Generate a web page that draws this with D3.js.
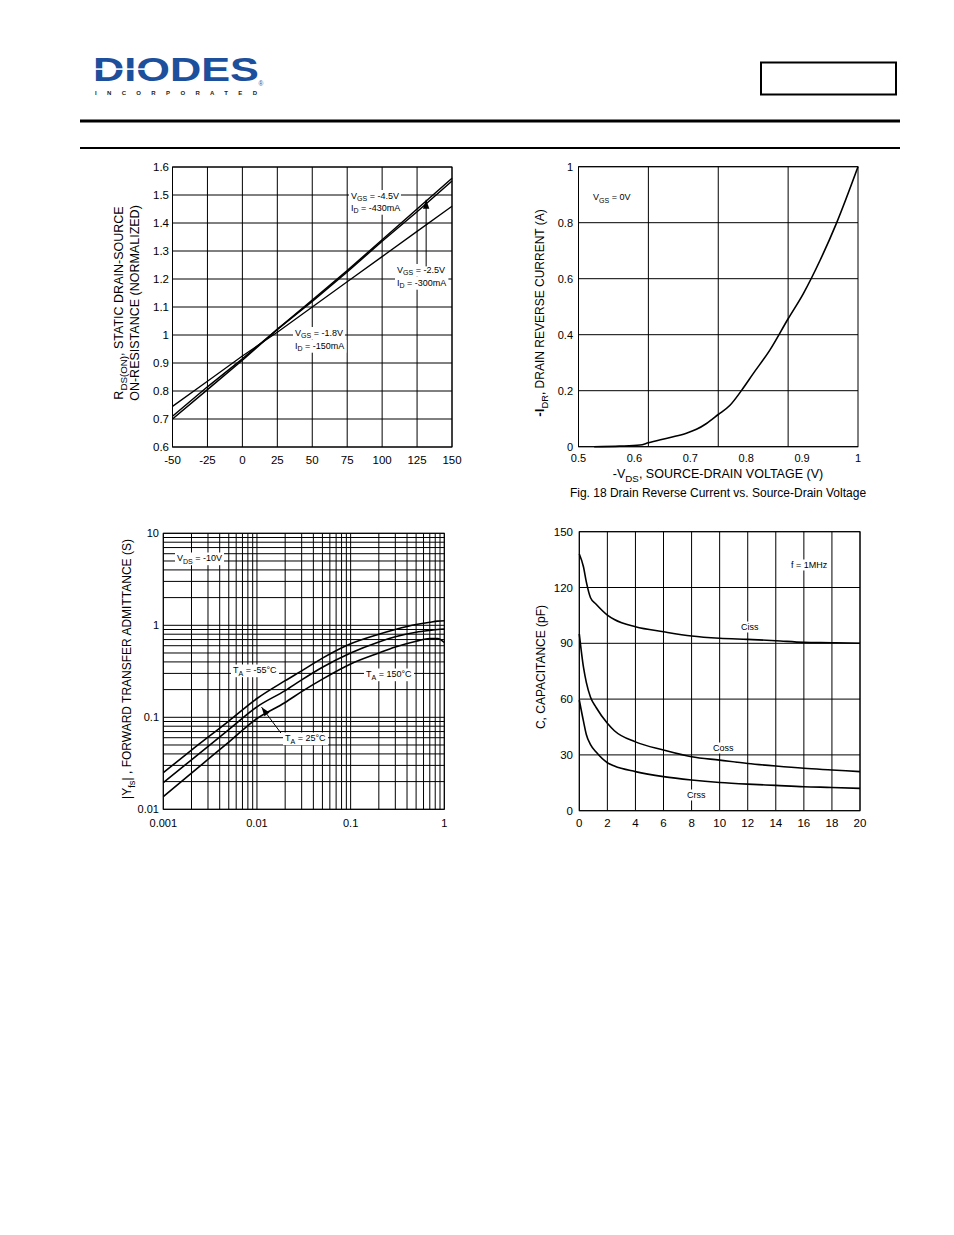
<!DOCTYPE html>
<html><head><meta charset="utf-8">
<script src="https://cdn.jsdelivr.net/npm/d3@7"></script>
<style>
body{margin:0;background:#fff}
svg{display:block}
text{font-family:"Liberation Sans",Arial,Helvetica,sans-serif;fill:#000}
</style>
</head><body>
<svg id="c" width="954" height="1235"></svg>
<script>
// ---------- Panel 1: normalized RDS(ON) vs temperature ----------
const p1Temp = [-50, -25, 0, 25, 50, 75, 100, 125, 150];
const p1R45 = [0.70, 0.805, 0.91, 1.02, 1.125, 1.23, 1.34, 1.45, 1.56];
const p1R18 = [0.71, 0.815, 0.915, 1.02, 1.12, 1.225, 1.335, 1.44, 1.55];
const p1R25 = [0.745, 0.835, 0.925, 1.01, 1.10, 1.19, 1.28, 1.37, 1.46];
const p1XTicks = [-50, -25, 0, 25, 50, 75, 100, 125, 150];
const p1YTicks = [0.6, 0.7, 0.8, 0.9, 1.0, 1.1, 1.2, 1.3, 1.4, 1.5, 1.6];
const p1YLabels = ["0.6","0.7","0.8","0.9","1","1.1","1.2","1.3","1.4","1.5","1.6"];

// ---------- Panel 2: drain reverse current vs source-drain voltage ----------
const p2Vsd = [0.528,0.574,0.61,0.625,0.664,0.693,0.711,0.729,0.75,0.771,0.792,0.8125,0.842,0.875,0.902,0.932,0.961,1.0];
const p2Idr = [0,0.002,0.006,0.014,0.033,0.048,0.062,0.083,0.115,0.148,0.202,0.261,0.344,0.457,0.546,0.665,0.796,1.0];
const p2XLabels = [0.5, 0.6, 0.7, 0.8, 0.9, 1.0];
const p2XLabelText = ["0.5","0.6","0.7","0.8","0.9","1"];
const p2XGrid = [0.625, 0.75, 0.875];
const p2YTicks = [0, 0.2, 0.4, 0.6, 0.8, 1.0];
const p2YLabels = ["0","0.2","0.4","0.6","0.8","1"];

// ---------- Panel 3: forward transfer admittance vs drain current ----------
const p3Id = [0.001,0.002,0.005,0.01,0.02,0.03,0.05,0.1,0.2,0.3,0.5,0.7,0.85,1];
const p3Yfs55 = [0.025,0.044,0.091,0.16,0.25,0.32,0.44,0.63,0.80,0.90,1.02,1.08,1.11,1.12];
const p3Yfs25 = [0.0195,0.0345,0.0735,0.13,0.195,0.255,0.35,0.50,0.66,0.75,0.84,0.88,0.90,0.91];
const p3Yfs150 = [0.0137,0.0247,0.0538,0.097,0.145,0.19,0.26,0.38,0.50,0.58,0.67,0.72,0.72,0.65];
const p3XLabels = [0.001, 0.01, 0.1, 1];
const p3XLabelText = ["0.001","0.01","0.1","1"];
const p3YLabels = [0.01, 0.1, 1, 10];
const p3YLabelText = ["0.01","0.1","1","10"];

// ---------- Panel 4: capacitance vs VDS ----------
const p4Vds = [0,0.3,0.5,0.8,1.2,2,2.5,4,6,8,10,12,14,16,18,20];
const p4Ciss = [138,131,123,114.5,111,105.2,102.8,98.9,96.2,93.9,92.7,92.1,91.4,90.5,90.3,90];
const p4Coss = [95,77,69,61,55.5,47,43,37,32.6,29,27.2,25.4,24,22.8,21.9,21];
const p4Crss = [59.5,48,41,35.5,31.5,25.8,24,21,18.3,16.5,15.2,14.3,13.6,12.9,12.5,12];
const p4XTicks = [0,2,4,6,8,10,12,14,16,18,20];
const p4YTicks = [0,30,60,90,120,150];

const svg = d3.select('#c');
svg.append('rect').attr('width',954).attr('height',1235).attr('fill','#fff');

// ---------- helpers ----------
function rich(g, parts, size) {
  const t = g.append('text').attr('font-size', size);
  let shifted = false;
  parts.forEach(p => {
    const s = p[0], k = p[1] || 'n';
    const ts = t.append('tspan').text(s);
    if (k === 'sub') {
      ts.attr('font-size', size * 0.78);
      if (!shifted) { ts.attr('dy', size * 0.3); shifted = true; }
    } else {
      if (shifted) { ts.attr('dy', -size * 0.3); shifted = false; }
      if (k === 'bold') ts.attr('font-weight', 'bold').attr('font-size', size * 1.12);
    }
  });
  return t;
}
function label(g, x, y, parts, size) {
  const t = rich(g, parts, size).attr('x', x).attr('y', y);
  const b = t.node().getBBox();
  g.insert('rect', () => t.node())
    .attr('x', b.x - 2).attr('y', b.y - 0.5)
    .attr('width', b.width + 4).attr('height', b.height + 1)
    .attr('fill', '#fff');
  return t;
}
function arrow(g, x1, y1, x2, y2) {
  g.append('line').attr('x1', x1).attr('y1', y1).attr('x2', x2).attr('y2', y2)
    .attr('stroke', '#000').attr('stroke-width', 1);
  const a = Math.atan2(y2 - y1, x2 - x1), L = 9, W = 3.2;
  const bx = x2 - L * Math.cos(a), by = y2 - L * Math.sin(a);
  const nx = -Math.sin(a) * W, ny = Math.cos(a) * W;
  g.append('path').attr('d', `M${x2},${y2}L${bx + nx},${by + ny}L${bx - nx},${by - ny}Z`).attr('fill', '#000');
}
function frame(g, x, y) {
  const [x0, x1] = x.range(), [y1, y0] = y.range();
  g.append('rect').attr('x', x0).attr('y', y0).attr('width', x1 - x0).attr('height', y1 - y0)
    .attr('fill', 'none').attr('stroke', '#000').attr('stroke-width', 1);
}
function vgrid(g, x, y, vals, w) {
  const [y1, y0] = y.range();
  g.selectAll(null).data(vals).join('line')
    .attr('x1', d => x(d)).attr('x2', d => x(d)).attr('y1', y0).attr('y2', y1)
    .attr('stroke', '#000').attr('stroke-width', w || 1);
}
function hgrid(g, x, y, vals, w) {
  const [x0, x1] = x.range();
  g.selectAll(null).data(vals).join('line')
    .attr('y1', d => y(d)).attr('y2', d => y(d)).attr('x1', x0).attr('x2', x1)
    .attr('stroke', '#000').attr('stroke-width', w || 1);
}
function curve(g, x, y, xs, ys, w, c) {
  const line = d3.line().x(d => x(d[0])).y(d => y(d[1])).curve(c || d3.curveMonotoneX);
  g.append('path').attr('d', line(xs.map((v, i) => [v, ys[i]])))
    .attr('fill', 'none').attr('stroke', '#000').attr('stroke-width', w || 1.6)
    .attr('stroke-linejoin', 'round');
}
function yLabels(g, y, vals, texts, xr, size) {
  g.selectAll(null).data(vals).join('text')
    .attr('x', xr).attr('y', d => y(d)).attr('dy', '0.36em')
    .attr('text-anchor', 'end').attr('font-size', size)
    .text((d, i) => texts ? texts[i] : d);
}
function xLabels(g, x, vals, texts, yb, size) {
  g.selectAll(null).data(vals).join('text')
    .attr('x', d => x(d)).attr('y', yb)
    .attr('text-anchor', 'middle').attr('font-size', size)
    .text((d, i) => texts ? texts[i] : d);
}
function vTitle(g, cx, cy, parts, size) {
  const t = rich(g, parts, size).attr('text-anchor', 'middle')
    .attr('transform', `translate(${cx},${cy}) rotate(-90)`);
  return t;
}

// ---------- header ----------
const hdr = svg.append('g');
hdr.append('text').attr('x', 93).attr('y', 80.5).attr('font-size', 32.5).attr('font-weight', 'bold')
  .attr('textLength', 166).attr('lengthAdjust', 'spacingAndGlyphs')
  .style('fill', '#1c4f9c').text('DIODES');
hdr.append('rect').attr('x', 93).attr('y', 68.3).attr('width', 62).attr('height', 1.6).attr('fill', '#fff');
hdr.append('path').attr('d', 'M154,64.5 L162,69.1 L154,73.7 Z').attr('fill', '#fff');
hdr.append('text').attr('x', 95).attr('y', 94.5).attr('font-size', 6).attr('font-weight', 'bold')
  .attr('textLength', 162).attr('lengthAdjust', 'spacing').style('fill', '#222').text('INCORPORATED');
hdr.append('text').attr('x', 258.5).attr('y', 86).attr('font-size', 6.5).style('fill', '#1c4f9c').text('®');
hdr.append('rect').attr('x', 761).attr('y', 62.5).attr('width', 135).attr('height', 32)
  .attr('fill', 'none').attr('stroke', '#000').attr('stroke-width', 2);
hdr.append('line').attr('x1', 80).attr('x2', 900).attr('y1', 121).attr('y2', 121).attr('stroke', '#000').attr('stroke-width', 3);
hdr.append('line').attr('x1', 80).attr('x2', 900).attr('y1', 148).attr('y2', 148).attr('stroke', '#000').attr('stroke-width', 2);

// ---------- Panel 1 ----------
{
  const g = svg.append('g');
  const x = d3.scaleLinear().domain([-50, 150]).range([172.5, 452]);
  const y = d3.scaleLinear().domain([0.6, 1.6]).range([447, 167]);
  vgrid(g, x, y, p1XTicks);
  hgrid(g, x, y, p1YTicks);
  frame(g, x, y);
  label(g, 351, 198.5, [["V"], ["GS", "sub"], [" = -4.5V"]], 9);
  label(g, 351, 210.5, [["I"], ["D", "sub"], [" = -430mA"]], 9);
  label(g, 397, 272.5, [["V"], ["GS", "sub"], [" = -2.5V"]], 9);
  label(g, 397, 285.5, [["I"], ["D", "sub"], [" = -300mA"]], 9);
  label(g, 295, 335.5, [["V"], ["GS", "sub"], [" = -1.8V"]], 9);
  label(g, 295, 348.5, [["I"], ["D", "sub"], [" = -150mA"]], 9);
  curve(g, x, y, p1Temp, p1R25, 1.3, d3.curveLinear);
  curve(g, x, y, p1Temp, p1R18, 1.5, d3.curveLinear);
  curve(g, x, y, p1Temp, p1R45, 1.5, d3.curveLinear);
  arrow(g, x(131.5), y(1.245), x(131.5), y(1.483));
  yLabels(g, y, p1YTicks, p1YLabels, 169, 11.5);
  xLabels(g, x, p1XTicks, null, 464, 11.5);
  vTitle(g, 123, 303, [["R"], ["DS(ON)", "sub"], [", STATIC DRAIN-SOURCE"]], 12.5);
  vTitle(g, 139, 303, [["ON-RESISTANCE (NORMALIZED)"]], 12.5);
}

// ---------- Panel 2 ----------
{
  const g = svg.append('g');
  const x = d3.scaleLinear().domain([0.5, 1.0]).range([578.5, 858]);
  const y = d3.scaleLinear().domain([0, 1]).range([446.7, 166.7]);
  vgrid(g, x, y, p2XGrid);
  hgrid(g, x, y, p2YTicks);
  frame(g, x, y);
  label(g, 593, 200, [["V"], ["GS", "sub"], [" = 0V"]], 9);
  curve(g, x, y, p2Vsd, p2Idr, 1.6);
  yLabels(g, y, p2YTicks, p2YLabels, 573, 11);
  xLabels(g, x, p2XLabels, p2XLabelText, 462, 11);
  vTitle(g, 544, 313, [["-I", "bold"], ["DR", "sub"], [", DRAIN REVERSE CURRENT (A)"]], 12);
  rich(g, [["-V"], ["DS", "sub"], [", SOURCE-DRAIN VOLTAGE (V)"]], 12.5)
    .attr('x', 718).attr('y', 478).attr('text-anchor', 'middle');
  g.append('text').attr('x', 718).attr('y', 497).attr('text-anchor', 'middle').attr('font-size', 12)
    .text('Fig. 18 Drain Reverse Current vs. Source-Drain Voltage');
}

// ---------- Panel 3 ----------
{
  const g = svg.append('g');
  const x = d3.scaleLog().domain([0.001, 1]).range([163.3, 444.3]);
  const y = d3.scaleLog().domain([0.01, 10]).range([809.3, 533.3]);
  const xg = [], yg = [];
  [0.001, 0.01, 0.1].forEach(d => { for (let k = 1; k <= 9; k++) xg.push(d * k); });
  xg.push(1);
  [0.01, 0.1, 1].forEach(d => { for (let k = 1; k <= 9; k++) yg.push(d * k); });
  yg.push(10);
  vgrid(g, x, y, xg);
  hgrid(g, x, y, yg);
  frame(g, x, y);
  label(g, 177, 561, [["V"], ["DS", "sub"], [" = -10V"]], 9);
  label(g, 233, 673, [["T"], ["A", "sub"], [" = -55°C"]], 9);
  label(g, 366, 677, [["T"], ["A", "sub"], [" = 150°C"]], 9);
  label(g, 285, 741, [["T"], ["A", "sub"], [" = 25°C"]], 9);
  arrow(g, x(0.018), y(0.0675), x(0.0112), y(0.129));
  curve(g, x, y, p3Id, p3Yfs55, 1.6);
  curve(g, x, y, p3Id, p3Yfs25, 1.6);
  curve(g, x, y, p3Id, p3Yfs150, 1.6);
  yLabels(g, y, p3YLabels, p3YLabelText, 159, 11);
  xLabels(g, x, p3XLabels, p3XLabelText, 827, 11);
  vTitle(g, 131, 669, [["|Y"], ["fs", "sub"], ["| , FORWARD TRANSFER ADMITTANCE (S)"]], 12);
}

// ---------- Panel 4 ----------
{
  const g = svg.append('g');
  const x = d3.scaleLinear().domain([0, 20]).range([579.3, 860]);
  const y = d3.scaleLinear().domain([0, 150]).range([810.7, 531.7]);
  vgrid(g, x, y, p4XTicks);
  hgrid(g, x, y, p4YTicks);
  frame(g, x, y);
  label(g, 791, 568, [["f = 1MHz"]], 9);
  label(g, 741, 630, [["Ciss"]], 9);
  label(g, 713, 751, [["Coss"]], 9);
  label(g, 687, 798, [["Crss"]], 9);
  curve(g, x, y, p4Vds, p4Ciss, 1.6);
  curve(g, x, y, p4Vds, p4Coss, 1.6);
  curve(g, x, y, p4Vds, p4Crss, 1.6);
  yLabels(g, y, p4YTicks, null, 573, 11.5);
  xLabels(g, x, p4XTicks, null, 827, 11.5);
  vTitle(g, 545, 667, [["C, CAPACITANCE (pF)"]], 12);
}
</script>
</body></html>
